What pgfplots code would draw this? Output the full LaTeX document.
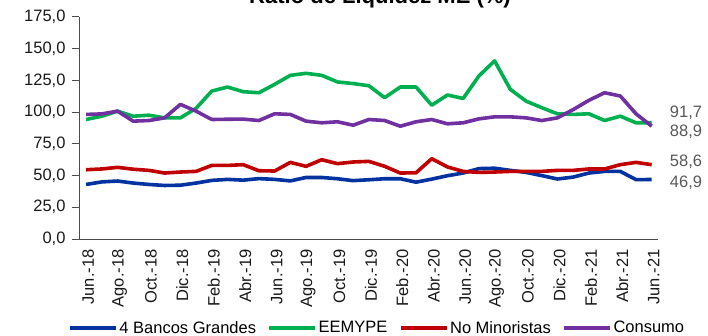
\documentclass[border=0pt]{standalone}
\usepackage{fontspec}
\setmainfont{Liberation Sans}
\usepackage{pgfplots}
\usepackage{pgfplotstable}
\pgfplotsset{compat=1.18}

\definecolor{cbig}{HTML}{0033A0}
\definecolor{cmype}{HTML}{00B050}
\definecolor{cnomin}{HTML}{C00000}
\definecolor{ccons}{HTML}{7030A0}
\definecolor{cval}{HTML}{595959}

% Monthly liquidity ratio, Jun-18 (0) to Jun-21 (36)
\pgfplotstableread{
m  big   mype   nomin  cons
0  43.0  94.2   54.6   98.2
1  45.0  96.8   55.2   98.6
2  45.7  100.8  56.5   100.8
3  44.1  96.8   55.0   92.9
4  43.0  97.6   54.1   93.4
5  42.2  95.5   52.0   95.5
6  42.4  95.5   52.8   106.1
7  44.1  103.0  53.3   100.8
8  46.2  116.6  58.0   94.2
9  47.0  119.8  58.0   94.4
10 46.4  116.1  58.6   94.5
11 47.6  115.3  53.8   93.4
12 47.0  121.9  53.6   98.7
13 45.8  129.0  60.4   98.2
14 48.5  130.6  57.3   92.9
15 48.5  129.0  62.5   91.6
16 47.5  123.8  59.4   92.4
17 46.0  122.5  60.7   89.7
18 46.7  120.8  61.2   94.2
19 47.5  111.4  57.3   93.4
20 47.5  119.8  52.0   88.9
21 44.8  119.8  52.2   92.4
22 47.2  105.5  63.3   94.2
23 49.9  113.5  56.8   90.8
24 52.0  110.8  53.3   91.6
25 55.5  128.5  52.5   94.7
26 55.8  140.4  52.8   96.3
27 54.1  118.0  53.3   96.3
28 52.5  108.7  53.3   95.5
29 50.0  103.5  53.3   93.4
30 47.3  98.7   54.1   95.5
31 48.8  98.2   54.1   102.0
32 52.0  98.7   55.2   109.3
33 53.3  93.4   55.2   115.3
34 53.3  96.8   58.6   112.7
35 46.8  91.6   60.4   98.7
36 46.9  91.7   58.6   88.9
}\liqdata

\begin{document}
\begin{tikzpicture}
\begin{axis}[
  at={(79pt,96pt)}, anchor=south west,
  scale only axis, width=579pt, height=222pt,
  xmin=-0.45, xmax=36.4, ymin=0, ymax=175,
  clip=false,
  axis lines*=left,
  axis line style={black!70, line width=1pt},
  ytick={0,25,...,175},
  xtick={0,2,...,36},
  xticklabels={Jun.-18,Ago.-18,Oct.-18,Dic.-18,Feb.-19,Abr.-19,Jun.-19,Ago.-19,Oct.-19,Dic.-19,Feb.-20,Abr.-20,Jun.-20,Ago.-20,Oct.-20,Dic.-20,Feb.-21,Abr.-21,Jun.-21},
  tick align=outside,
  major tick length=7pt,
  xtick style={draw=none},
  ytick style={black!70, line width=1pt},
  tick label style={font=\fontsize{16.5}{19}\selectfont, text=black!90},
  x tick label style={rotate=90, anchor=east, yshift=-2pt},
  y tick label style={xshift=-3pt},
  /pgf/number format/.cd, fixed, fixed zerofill, precision=1, use comma, 1000 sep={}, assume math mode=true,
  /pgfplots/.cd,
  legend columns=4,
  legend style={at={(axis description cs:0.5147,-0.40)}, anchor=center,
    draw=none, fill=none, inner sep=0pt,
    font=\fontsize{16.5}{19}\selectfont,
    nodes={inner sep=1.5pt},
    /tikz/every even column/.append style={column sep=10pt}},
  legend image code/.code={\draw[#1] (0pt,0pt) -- (46pt,0pt);},
  every axis plot/.append style={line width=3.6pt, line join=round, mark=none},
]
\addplot[cbig]   table[x=m, y=big]   {\liqdata};
\addlegendentry{4 Bancos Grandes}
\addplot[cmype]  table[x=m, y=mype]  {\liqdata};
\addlegendentry{EEMYPE}
\addplot[cnomin] table[x=m, y=nomin] {\liqdata};
\addlegendentry{No Minoristas}
\addplot[ccons]  table[x=m, y=cons]  {\liqdata};
\addlegendentry{Consumo}

\begin{scope}[every node/.style={anchor=west, inner sep=0pt, text=cval, font=\fontsize{16.5}{19}\selectfont}]
\node[xshift=18pt, yshift=10pt]  at (axis cs:36,91.7) {91,7};
\node[xshift=18pt, yshift=-6pt]  at (axis cs:36,88.9) {88,9};
\node[xshift=18pt, yshift=3pt]   at (axis cs:36,58.6) {58,6};
\node[xshift=18pt, yshift=-3pt]  at (axis cs:36,46.9) {46,9};
\end{scope}
\end{axis}
\node[anchor=base, font=\bfseries\fontsize{22}{26}\selectfont] at (380pt,331pt) {Ratio de Liquidez ME (\%)};
\pgfresetboundingbox
\path[use as bounding box] (0pt,0pt) rectangle (708pt,335pt);
\end{tikzpicture}
\end{document}
